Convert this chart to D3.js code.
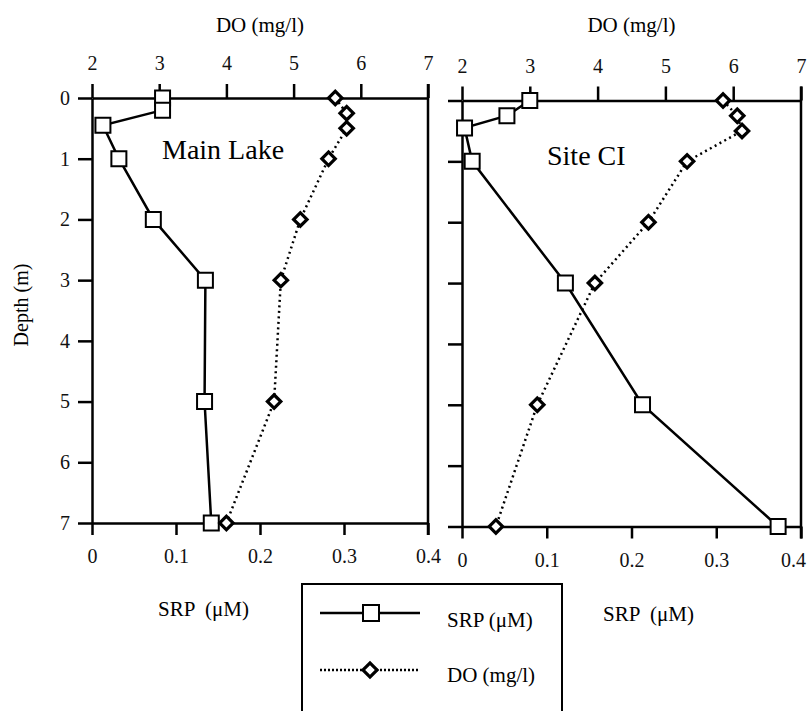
<!DOCTYPE html>
<html>
<head>
<meta charset="utf-8">
<script src="https://cdn.jsdelivr.net/npm/d3@7"></script>
<style>
  body { margin: 0; background: #fff; }
  svg { display: block; }
  svg text { white-space: pre; font-family: "Liberation Serif", "Times New Roman", Times, serif; }
</style>
</head>
<body>
<div id="chart"></div>
<script>
// data (depth in m)
let depth_ticks = [0, 1, 2, 3, 4, 5, 6, 7];
let srp_ticks = [0, 0.1, 0.2, 0.3, 0.4];
let do_ticks = [2, 3, 4, 5, 6, 7];

// Main Lake
let main_srp_depth = [0, 0.2, 0.45, 1, 2, 3, 5, 7];
let main_srp = [0.084, 0.084, 0.013, 0.032, 0.073, 0.135, 0.134, 0.142];
let main_do_depth = [0, 0.25, 0.5, 1, 2, 3, 5, 7];
let main_do = [5.62, 5.79, 5.79, 5.52, 5.10, 4.81, 4.71, 4.0];

// Site CI
let ci_srp_depth = [0, 0.25, 0.45, 1, 3, 5, 7];
let ci_srp = [0.08, 0.053, 0.003, 0.012, 0.122, 0.213, 0.373];
let ci_do_depth = [0, 0.25, 0.5, 1, 2, 3, 5, 7];
let ci_do = [5.85, 6.06, 6.13, 5.32, 4.75, 3.96, 3.11, 2.50];

let WIDTH = 809;
let HEIGHT = 711;
let FONT = "Liberation Serif, Times New Roman, serif";

const svg = d3.select("#chart")
    .append("svg")
    .attr("width", WIDTH)
    .attr("height", HEIGHT)
    .attr("font-family", FONT);

// one panel = top DO axis, bottom SRP axis, depth axis on the left
function drawPanel(p) {
    const srpScale = d3.scaleLinear().domain([0, 0.4]).range([p.x0, p.x1]);
    const doScale = d3.scaleLinear().domain([2, 7]).range([p.x0, p.x1]);
    const yScale = d3.scaleLinear().domain([0, 7]).range([p.y0, p.y1]);

    const g = svg.append("g");

    const topAxis = d3.axisTop(doScale)
        .tickValues(do_ticks)
        .tickSize(14)
        .tickSizeOuter(0)
        .tickPadding(14)
        .tickFormat(d3.format("d"));

    const bottomAxis = d3.axisBottom(srpScale)
        .tickValues(srp_ticks)
        .tickSize(12)
        .tickSizeOuter(0)
        .tickPadding(14)
        .tickFormat(d => d === 0 ? "0" : d3.format(".1f")(d));

    const leftAxis = d3.axisLeft(yScale)
        .tickValues(depth_ticks)
        .tickSize(14)
        .tickSizeOuter(0)
        .tickPadding(8)
        .tickFormat(p.depthLabels ? d3.format("d") : "");

    g.append("g")
        .attr("transform", `translate(0, ${p.y0})`)
        .call(topAxis);

    const bx = g.append("g")
        .attr("transform", `translate(0, ${p.y1})`)
        .call(bottomAxis);

    g.append("g")
        .attr("transform", `translate(${p.x0}, 0)`)
        .call(leftAxis);

    // last SRP label sits a little left of its tick at the page edge
    if (p.shiftLast) {
        bx.selectAll(".tick text").filter(d => d === 0.4).attr("dx", p.shiftLast);
    }

    // right frame line
    g.append("line")
        .attr("x1", p.x1).attr("x2", p.x1)
        .attr("y1", p.y0 - 14).attr("y2", p.y1 + 12)
        .attr("stroke", "#000")
        .attr("stroke-width", 2.5);

    g.selectAll("g").attr("font-family", FONT).attr("font-size", null);
    g.selectAll(".domain, .tick line")
        .attr("stroke", "#000")
        .attr("stroke-width", 2.5);
    g.selectAll(".tick text")
        .attr("font-size", 20)
        .attr("fill", "#111");

    const srpData = p.srp.map((v, i) => ({ x: v, y: p.srpDepth[i] }));
    const doData = p.dov.map((v, i) => ({ x: v, y: p.doDepth[i] }));

    const srp_line = d3.line()
        .x(d => srpScale(d.x))
        .y(d => yScale(d.y));

    const do_line = d3.line()
        .x(d => doScale(d.x))
        .y(d => yScale(d.y));

    g.append("path")
        .datum(srpData)
        .attr("fill", "none")
        .attr("stroke", "#000")
        .attr("stroke-width", 2.5)
        .attr("d", srp_line);

    g.append("path")
        .datum(doData)
        .attr("fill", "none")
        .attr("stroke", "#000")
        .attr("stroke-width", 2.5)
        .attr("stroke-dasharray", "2,3.5")
        .attr("d", do_line);

    g.selectAll(".sq")
        .data(srpData)
        .join("path")
        .attr("class", "sq")
        .attr("transform", d => `translate(${srpScale(d.x)}, ${yScale(d.y)})`)
        .attr("d", d3.symbol(d3.symbolSquare, 225))
        .attr("fill", "#fff")
        .attr("stroke", "#000")
        .attr("stroke-width", 2);

    g.selectAll(".dm")
        .data(doData)
        .join("path")
        .attr("class", "dm")
        .attr("transform", d => `translate(${doScale(d.x)}, ${yScale(d.y)}) rotate(45)`)
        .attr("d", d3.symbol(d3.symbolSquare, 90))
        .attr("fill", "#fff")
        .attr("stroke", "#000")
        .attr("stroke-width", 3.2);

    // titles
    g.append("text")
        .attr("x", (p.x0 + p.x1) / 2)
        .attr("y", 32)
        .attr("text-anchor", "middle")
        .attr("font-size", 21)
        .text("DO (mg/l)");

    g.append("text")
        .attr("x", p.srpLabelX)
        .attr("y", p.srpLabelY)
        .attr("font-size", 21)
        .text("SRP  (\u03bcM)");

    g.append("text")
        .attr("x", p.nameX)
        .attr("y", p.nameY)
        .attr("font-size", 28)
        .text(p.name);
}

drawPanel({
    x0: 92, x1: 428, y0: 98, y1: 523,
    depthLabels: true,
    srp: main_srp, srpDepth: main_srp_depth,
    dov: main_do, doDepth: main_do_depth,
    name: "Main Lake", nameX: 162, nameY: 159,
    srpLabelX: 158, srpLabelY: 616
});

drawPanel({
    x0: 462, x1: 801, y0: 100.5, y1: 526.5,
    depthLabels: false,
    srp: ci_srp, srpDepth: ci_srp_depth,
    dov: ci_do, doDepth: ci_do_depth,
    name: "Site CI", nameX: 547, nameY: 165,
    srpLabelX: 603, srpLabelY: 621,
    shiftLast: -8
});

// depth label
svg.append("text")
    .attr("transform", "translate(28, 305) rotate(-90)")
    .attr("text-anchor", "middle")
    .attr("font-size", 20)
    .text("Depth (m)");

// legend
const legend = svg.append("g");

legend.append("rect")
    .attr("x", 302).attr("y", 584)
    .attr("width", 260).attr("height", 140)
    .attr("fill", "#fff")
    .attr("stroke", "#000")
    .attr("stroke-width", 2);

legend.append("line")
    .attr("x1", 320).attr("x2", 420)
    .attr("y1", 613).attr("y2", 613)
    .attr("stroke", "#000").attr("stroke-width", 2.5);

legend.append("path")
    .attr("transform", "translate(371, 613)")
    .attr("d", d3.symbol(d3.symbolSquare, 256))
    .attr("fill", "#fff").attr("stroke", "#000").attr("stroke-width", 2);

legend.append("line")
    .attr("x1", 320).attr("x2", 420)
    .attr("y1", 670).attr("y2", 670)
    .attr("stroke", "#000").attr("stroke-width", 2.5)
    .attr("stroke-dasharray", "2,2");

legend.append("path")
    .attr("transform", "translate(370, 670) rotate(45)")
    .attr("d", d3.symbol(d3.symbolSquare, 100))
    .attr("fill", "#fff").attr("stroke", "#000").attr("stroke-width", 3.2);

legend.append("text")
    .attr("x", 447).attr("y", 627)
    .attr("font-size", 21)
    .text("SRP (\u03bcM)");

legend.append("text")
    .attr("x", 447).attr("y", 682)
    .attr("font-size", 21)
    .text("DO (mg/l)");
</script>
</body>
</html>
